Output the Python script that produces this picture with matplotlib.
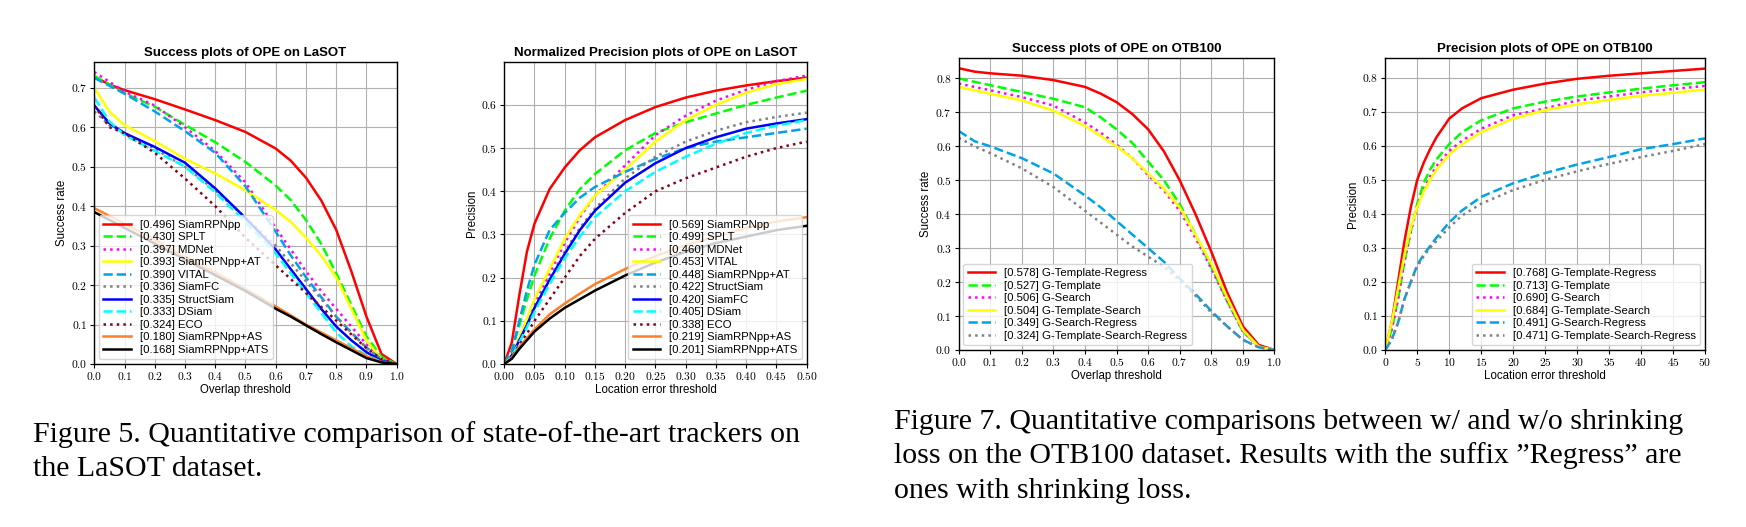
import numpy as np
import matplotlib
matplotlib.use('Agg')
import matplotlib.pyplot as plt
from matplotlib.ticker import FuncFormatter

plt.rcParams['font.family'] = ['Liberation Sans', 'DejaVu Sans']
plt.rcParams['mathtext.fontset'] = 'cm'

# pysot-style colours / line styles, assigned by rank
COLOR = [(1, 0, 0), (0, 1, 0), (1, 0, 1), (1, 1, 0), (0, 162/255, 232/255),
         (0.5, 0.5, 0.5), (0, 0, 1), (0, 1, 1), (136/255, 0, 21/255),
         (1, 127/255, 39/255), (0, 0, 0)]
LINE_STYLE = ['-', '--', ':', '-', '--', ':', '-', '--', ':', '-', '-']

# ---------------- LaSOT success ----------------
lasot_succ_x = [0, 0.05, 0.1, 0.2, 0.3, 0.4, 0.5, 0.6, 0.65, 0.7, 0.75, 0.8, 0.85, 0.9, 0.95, 1.0]
lasot_succ_labels = ['[0.496] SiamRPNpp', '[0.430] SPLT', '[0.397] MDNet', '[0.393] SiamRPNpp+AT',
                     '[0.390] VITAL', '[0.336] SiamFC', '[0.335] StructSiam', '[0.333] DSiam',
                     '[0.324] ECO', '[0.180] SiamRPNpp+AS', '[0.168] SiamRPNpp+ATS']
s_siamrpnpp = [0.728, 0.708, 0.694, 0.671, 0.645, 0.618, 0.588, 0.546, 0.515, 0.472, 0.415, 0.34, 0.235, 0.12, 0.025, 0]
s_splt = [0.73, 0.708, 0.686, 0.652, 0.606, 0.562, 0.512, 0.452, 0.415, 0.365, 0.305, 0.23, 0.15, 0.07, 0.018, 0]
s_mdnet = [0.74, 0.715, 0.69, 0.655, 0.6, 0.54, 0.46, 0.345, 0.29, 0.235, 0.185, 0.14, 0.095, 0.05, 0.015, 0]
s_at = [0.70, 0.64, 0.605, 0.565, 0.52, 0.483, 0.44, 0.39, 0.36, 0.32, 0.275, 0.22, 0.14, 0.06, 0.012, 0]
s_vital = [0.725, 0.705, 0.685, 0.64, 0.59, 0.535, 0.45, 0.335, 0.275, 0.22, 0.17, 0.12, 0.08, 0.042, 0.012, 0]
s_siamfc = [0.64, 0.605, 0.585, 0.545, 0.50, 0.44, 0.37, 0.30, 0.255, 0.21, 0.165, 0.12, 0.08, 0.04, 0.01, 0]
s_structsiam = [0.655, 0.61, 0.585, 0.55, 0.51, 0.445, 0.37, 0.29, 0.24, 0.19, 0.14, 0.095, 0.06, 0.03, 0.008, 0]
s_dsiam = [0.675, 0.615, 0.58, 0.54, 0.50, 0.435, 0.36, 0.28, 0.23, 0.18, 0.13, 0.08, 0.045, 0.022, 0.006, 0]
s_eco = [0.655, 0.60, 0.585, 0.535, 0.47, 0.40, 0.32, 0.25, 0.215, 0.18, 0.145, 0.11, 0.075, 0.04, 0.012, 0]
s_as = [0.395, 0.375, 0.355, 0.315, 0.272, 0.232, 0.19, 0.146, 0.123, 0.1, 0.08, 0.06, 0.04, 0.02, 0.005, 0]
s_ats = [0.385, 0.365, 0.345, 0.305, 0.265, 0.225, 0.185, 0.14, 0.12, 0.098, 0.076, 0.055, 0.035, 0.015, 0.004, 0]

# ---------------- LaSOT normalized precision ----------------
lasot_prec_x = [0, 0.0125, 0.025, 0.0375, 0.05, 0.075, 0.1, 0.125, 0.15, 0.2, 0.25, 0.3, 0.35, 0.4, 0.45, 0.5]
lasot_prec_labels = ['[0.569] SiamRPNpp', '[0.499] SPLT', '[0.460] MDNet', '[0.453] VITAL',
                     '[0.448] SiamRPNpp+AT', '[0.422] StructSiam', '[0.420] SiamFC', '[0.405] DSiam',
                     '[0.338] ECO', '[0.219] SiamRPNpp+AS', '[0.201] SiamRPNpp+ATS']
p_siamrpnpp = [0, 0.05, 0.16, 0.26, 0.325, 0.405, 0.455, 0.495, 0.525, 0.565, 0.595, 0.617, 0.633, 0.645, 0.655, 0.663]
p_splt = [0, 0.03, 0.09, 0.15, 0.205, 0.29, 0.355, 0.405, 0.44, 0.495, 0.535, 0.56, 0.58, 0.60, 0.617, 0.633]
p_mdnet = [0, 0.02, 0.06, 0.1, 0.14, 0.21, 0.28, 0.34, 0.39, 0.46, 0.53, 0.575, 0.61, 0.635, 0.655, 0.668]
p_vital = [0, 0.02, 0.06, 0.105, 0.15, 0.22, 0.29, 0.345, 0.39, 0.45, 0.515, 0.565, 0.60, 0.628, 0.648, 0.66]
p_at = [0, 0.03, 0.10, 0.17, 0.23, 0.31, 0.35, 0.385, 0.41, 0.445, 0.475, 0.50, 0.515, 0.525, 0.535, 0.545]
p_structsiam = [0, 0.02, 0.055, 0.09, 0.13, 0.20, 0.26, 0.315, 0.36, 0.43, 0.48, 0.515, 0.54, 0.56, 0.572, 0.582]
p_siamfc = [0, 0.02, 0.055, 0.09, 0.13, 0.195, 0.255, 0.31, 0.355, 0.42, 0.465, 0.50, 0.525, 0.545, 0.557, 0.567]
p_dsiam = [0, 0.02, 0.05, 0.085, 0.12, 0.185, 0.245, 0.295, 0.34, 0.40, 0.445, 0.48, 0.51, 0.535, 0.552, 0.565]
p_eco = [0, 0.015, 0.045, 0.07, 0.10, 0.15, 0.20, 0.25, 0.29, 0.35, 0.40, 0.43, 0.455, 0.48, 0.50, 0.515]
p_as = [0, 0.015, 0.04, 0.06, 0.08, 0.115, 0.14, 0.163, 0.185, 0.22, 0.25, 0.275, 0.295, 0.315, 0.33, 0.34]
p_ats = [0, 0.012, 0.035, 0.055, 0.075, 0.105, 0.13, 0.15, 0.17, 0.205, 0.235, 0.26, 0.28, 0.295, 0.31, 0.32]

# ---------------- OTB100 success ----------------
otb_succ_x = [0, 0.05, 0.1, 0.2, 0.3, 0.4, 0.45, 0.5, 0.55, 0.6, 0.65, 0.7, 0.75, 0.8, 0.85, 0.9, 0.95, 1.0]
otb_succ_labels = ['[0.578] G-Template-Regress', '[0.527] G-Template', '[0.506] G-Search',
                   '[0.504] G-Template-Search', '[0.349] G-Search-Regress',
                   '[0.324] G-Template-Search-Regress']
os_tr = [0.83, 0.82, 0.815, 0.808, 0.795, 0.775, 0.755, 0.73, 0.695, 0.65, 0.585, 0.50, 0.40, 0.29, 0.17, 0.07, 0.015, 0]
os_t = [0.80, 0.79, 0.78, 0.76, 0.74, 0.715, 0.685, 0.65, 0.61, 0.555, 0.50, 0.43, 0.34, 0.245, 0.145, 0.055, 0.01, 0]
os_s = [0.785, 0.775, 0.765, 0.745, 0.72, 0.67, 0.64, 0.605, 0.565, 0.515, 0.47, 0.41, 0.33, 0.24, 0.145, 0.055, 0.01, 0]
os_ts = [0.775, 0.765, 0.755, 0.735, 0.705, 0.66, 0.63, 0.60, 0.565, 0.52, 0.475, 0.42, 0.34, 0.255, 0.155, 0.06, 0.01, 0]
os_sr = [0.645, 0.615, 0.60, 0.565, 0.52, 0.455, 0.42, 0.38, 0.34, 0.30, 0.26, 0.21, 0.165, 0.115, 0.07, 0.03, 0.008, 0]
os_tsr = [0.625, 0.60, 0.58, 0.535, 0.48, 0.41, 0.375, 0.34, 0.305, 0.275, 0.245, 0.205, 0.16, 0.11, 0.07, 0.03, 0.008, 0]

# ---------------- OTB100 precision ----------------
otb_prec_x = [0, 1, 2, 3, 4, 5, 6, 7, 8, 10, 12, 15, 20, 25, 30, 35, 40, 45, 50]
otb_prec_labels = ['[0.768] G-Template-Regress', '[0.713] G-Template', '[0.690] G-Search',
                   '[0.684] G-Template-Search', '[0.491] G-Search-Regress',
                   '[0.471] G-Template-Search-Regress']
op_tr = [0, 0.08, 0.2, 0.32, 0.42, 0.5, 0.55, 0.59, 0.625, 0.68, 0.71, 0.74, 0.765, 0.783, 0.797, 0.806, 0.813, 0.82, 0.827]
op_t = [0, 0.06, 0.15, 0.26, 0.35, 0.43, 0.49, 0.53, 0.56, 0.605, 0.64, 0.675, 0.71, 0.73, 0.745, 0.757, 0.768, 0.778, 0.787]
op_s = [0, 0.06, 0.15, 0.26, 0.35, 0.42, 0.47, 0.51, 0.54, 0.585, 0.615, 0.65, 0.69, 0.71, 0.733, 0.745, 0.757, 0.767, 0.776]
op_ts = [0, 0.08, 0.18, 0.28, 0.36, 0.42, 0.465, 0.50, 0.53, 0.575, 0.605, 0.64, 0.68, 0.705, 0.722, 0.735, 0.747, 0.756, 0.765]
op_sr = [0, 0.03, 0.08, 0.15, 0.2, 0.25, 0.28, 0.305, 0.33, 0.375, 0.41, 0.45, 0.49, 0.52, 0.545, 0.567, 0.59, 0.605, 0.622]
op_tsr = [0, 0.03, 0.08, 0.15, 0.2, 0.245, 0.275, 0.30, 0.32, 0.36, 0.395, 0.43, 0.47, 0.50, 0.525, 0.547, 0.567, 0.585, 0.605]

fig = plt.figure(figsize=(17.46, 5.27), dpi=100)

def draw(rect, x, series, labels, title, xlabel, ylabel, xlim, ylim, xticks, yticks, xfmt, loc):
    ax = fig.add_axes(rect)
    for i, (ys, lab) in enumerate(zip(series, labels)):
        ax.plot(x, ys, color=COLOR[i], linestyle=LINE_STYLE[i], linewidth=1.8, label=lab)
    ax.set_xlim(*xlim)
    ax.set_ylim(*ylim)
    ax.set_xticks(xticks)
    ax.set_yticks(yticks)
    ax.xaxis.set_major_formatter(FuncFormatter(lambda v, p: r'$' + (xfmt % v) + '$'))
    ax.yaxis.set_major_formatter(FuncFormatter(lambda v, p: r'$%.1f$' % v))
    ax.tick_params(labelsize=8.3, length=3, width=0.8, pad=2)
    ax.grid(True, color='#b0b0b0', linewidth=0.8)
    for sp in ax.spines.values():
        sp.set_linewidth(1.0)
    ax.set_title(title, fontsize=9.5, fontweight='bold', pad=4)
    ax.set_xlabel(xlabel, fontsize=8.3, labelpad=1)
    ax.set_ylabel(ylabel, fontsize=8.3, labelpad=2)
    ax.legend(loc=loc, fontsize=8.2, labelspacing=0.22, handlelength=2.4,
              borderpad=0.4, handletextpad=0.8, borderaxespad=0.4)
    return ax

draw([0.0540, 0.3093, 0.1732, 0.5736], lasot_succ_x,
     [s_siamrpnpp, s_splt, s_mdnet, s_at, s_vital, s_siamfc, s_structsiam, s_dsiam, s_eco, s_as, s_ats],
     lasot_succ_labels, 'Success plots of OPE on LaSOT', 'Overlap threshold', 'Success rate',
     (0, 1), (0, 0.766), np.arange(0, 1.01, 0.1), np.arange(0, 0.71, 0.1), '%.1f', 'lower left')

draw([0.2888, 0.3093, 0.1732, 0.5736], lasot_prec_x,
     [p_siamrpnpp, p_splt, p_mdnet, p_vital, p_at, p_structsiam, p_siamfc, p_dsiam, p_eco, p_as, p_ats],
     lasot_prec_labels, 'Normalized Precision plots of OPE on LaSOT', 'Location error threshold', 'Precision',
     (0, 0.5), (0, 0.70), np.arange(0, 0.501, 0.05), np.arange(0, 0.61, 0.1), '%.2f', 'lower right')

draw([0.5491, 0.3359, 0.1808, 0.5546], otb_succ_x,
     [os_tr, os_t, os_s, os_ts, os_sr, os_tsr],
     otb_succ_labels, 'Success plots of OPE on OTB100', 'Overlap threshold', 'Success rate',
     (0, 1), (0, 0.861), np.arange(0, 1.01, 0.1), np.arange(0, 0.81, 0.1), '%.1f', 'lower left')

draw([0.7934, 0.3359, 0.1831, 0.5546], otb_prec_x,
     [op_tr, op_t, op_s, op_ts, op_sr, op_tsr],
     otb_prec_labels, 'Precision plots of OPE on OTB100', 'Location error threshold', 'Precision',
     (0, 50), (0, 0.859), np.arange(0, 51, 5), np.arange(0, 0.81, 0.1), '%d', 'lower right')

cap = dict(fontsize=21.5, family='Liberation Serif', va='baseline', ha='left')
fig.text(33/1746, 1 - 442/527, 'Figure 5. Quantitative comparison of state-of-the-art trackers on', **cap)
fig.text(33/1746, 1 - 476/527, 'the LaSOT dataset.', **cap)
fig.text(894/1746, 1 - 429/527, 'Figure 7. Quantitative comparisons between w/ and w/o shrinking', **cap)
fig.text(894/1746, 1 - 463/527, 'loss on the OTB100 dataset. Results with the suffix \u201dRegress\u201d are', **cap)
fig.text(894/1746, 1 - 498/527, 'ones with shrinking loss.', **cap)

fig.savefig('out.png', dpi=100)
